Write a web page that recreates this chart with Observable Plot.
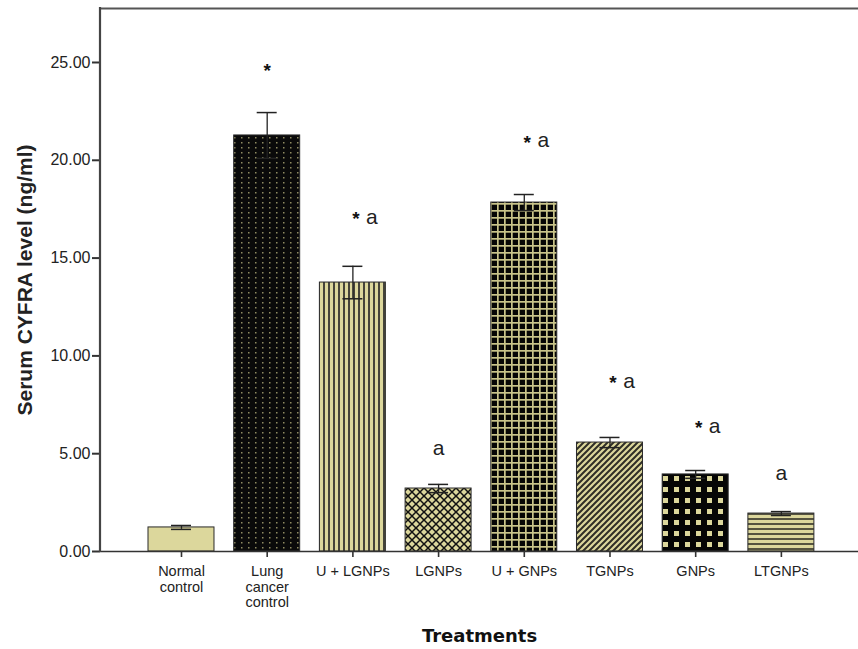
<!DOCTYPE html>
<html>
<head>
<meta charset="utf-8">
<script src="https://cdn.jsdelivr.net/npm/d3@7"></script>
<script src="https://cdn.jsdelivr.net/npm/@observablehq/plot@0.6"></script>
<style>
  html, body { margin: 0; padding: 0; background: #fff; }
</style>
</head>
<body>
<div id="chart"></div>
<script>
// ---- data ----
const categories = ["Normal control", "Lung cancer control", "U + LGNPs", "LGNPs", "U + GNPs", "TGNPs", "GNPs", "LTGNPs"];
const tickLabels = ["Normal\ncontrol", "Lung\ncancer\ncontrol", "U + LGNPs", "LGNPs", "U + GNPs", "TGNPs", "GNPs", "LTGNPs"];
const means  = [1.23, 21.27, 13.75, 3.22, 17.84, 5.57, 3.94, 1.94];
const errors = [0.10, 1.17, 0.83, 0.21, 0.41, 0.26, 0.20, 0.10];
const starMark = [false, true, true, false, true, true, true, false];
const aMark    = [false, false, true, true, true, true, true, true];
const markY    = [null, 24.8, 17.1, 5.3, 21.0, 8.7, 6.4, 4.0];
const yTicks = [0, 5, 10, 15, 20, 25];
const yTop = 27.76;
const patterns = ["pNormal", "pLung", "pVert", "pCross", "pGrid", "pDiag", "pSquares", "pHoriz"];

const data = categories.map((c, i) => ({
  cat: c, label: tickLabels[i], mean: means[i],
  lo: means[i] - errors[i], hi: means[i] + errors[i],
  fill: `url(#${patterns[i]})`,
  star: starMark[i], a: aMark[i], my: markY[i]
}));
const labelOf = new Map(data.map(d => [d.cat, d.label]));

const khaki = "#dcd79c";
const dark = "#2f2e26";

const chart = Plot.plot({
  width: 858,
  height: 649,
  marginLeft: 100,
  marginRight: 0,
  marginTop: 8,
  marginBottom: 98,
  style: {fontFamily: "'Liberation Sans', Arial, sans-serif", fontSize: "14px", color: "#222", background: "#fff"},
  x: {domain: categories, paddingInner: 0.23, paddingOuter: 0.5375, align: 0.521, round: false, label: null},
  y: {domain: [0, yTop], label: null},
  color: {type: "identity"},
  marks: [
    Plot.ruleY([yTop], {stroke: "#555", strokeWidth: 2.2}),
    Plot.barY(data, {x: "cat", y: "mean", fill: "fill", stroke: "#2a2a2a", strokeWidth: 1}),
    Plot.ruleX(data, {x: "cat", y1: "lo", y2: "hi", stroke: "#222", strokeWidth: 1.3}),
    Plot.tickY(data, {x: "cat", y: "hi", insetLeft: 23, insetRight: 23, stroke: "#222", strokeWidth: 1.5}),
    Plot.tickY(data, {x: "cat", y: "lo", insetLeft: 23, insetRight: 23, stroke: "#222", strokeWidth: 1.5}),
    Plot.ruleY([0], {stroke: "#333", strokeWidth: 1.6}),
    Plot.axisY({ticks: yTicks, tickFormat: d3.format(".2f"), tickSize: 8, tickPadding: 2, fontSize: 16, label: null, stroke: "#333", strokeWidth: 2, fill: "#222"}),
    Plot.axisX({tickFormat: d => labelOf.get(d), tickSize: 6, tickPadding: 8, fontSize: 14.5, lineHeight: 1.05, label: null, stroke: "#333", strokeWidth: 1.6, fill: "#222"}),
    Plot.text(data.filter(d => d.a && !d.star), {x: "cat", y: "my", text: () => "a", fontSize: 21, lineAnchor: "middle", fill: "#222"}),
    Plot.text(data.filter(d => d.a && d.star), {x: "cat", y: "my", text: () => "a", dx: 19, fontSize: 21, lineAnchor: "middle", fill: "#222"}),
    Plot.text(data.filter(d => d.star && !d.a), {x: "cat", y: "my", text: () => "*", fontSize: 19, fontWeight: "bold", lineAnchor: "middle", dy: 5, fill: "#111"}),
    Plot.text(data.filter(d => d.star && d.a), {x: "cat", y: "my", text: () => "*", dx: 3, fontSize: 19, fontWeight: "bold", lineAnchor: "middle", dy: 2, fill: "#111"}),
    Plot.text(["Serum CYFRA level (ng/ml)"], {frameAnchor: "left", textAnchor: "middle", rotate: -90, dx: -75, fontSize: 21, fontWeight: "bold", fill: "#222"}),
    Plot.text(["Treatments"], {frameAnchor: "bottom", dy: 90, fontSize: 18, fontWeight: "bold", fontFamily: "'DejaVu Sans', sans-serif", fill: "#111"})
  ]
});

document.getElementById("chart").appendChild(chart);
const svg = d3.select(chart);

// left axis line, from the library's own scales
const ys = chart.scale("y"), xs = chart.scale("x");
svg.append("line")
  .attr("x1", xs.range[0]).attr("x2", xs.range[0])
  .attr("y1", ys.apply(0) + 1).attr("y2", ys.apply(yTop) - 1)
  .attr("stroke", "#444").attr("stroke-width", 2.2);

// pattern definitions
const defs = svg.insert("defs", ":first-child");
function pat(id, w, h) {
  return defs.append("pattern").attr("id", id).attr("patternUnits", "userSpaceOnUse").attr("width", w).attr("height", h);
}
let p;
p = pat("pNormal", 4, 4); p.append("rect").attr("width", 4).attr("height", 4).attr("fill", khaki);
p = pat("pLung", 7, 5);
p.append("rect").attr("width", 7).attr("height", 5).attr("fill", "#0a0a0a");
p.append("rect").attr("x", 3).attr("y", 2).attr("width", 1.5).attr("height", 1.5).attr("fill", "#8f8b62");
p = pat("pVert", 5, 5);
p.append("rect").attr("width", 5).attr("height", 5).attr("fill", khaki);
p.append("rect").attr("x", 3).attr("width", 2).attr("height", 5).attr("fill", "#46443a");
p = pat("pCross", 8, 8);
p.append("rect").attr("width", 8).attr("height", 8).attr("fill", khaki);
p.append("path").attr("d", "M-1,-1L9,9M9,-1L-1,9").attr("stroke", "#111").attr("stroke-width", 1.5);
p = pat("pGrid", 7, 7);
p.append("rect").attr("width", 7).attr("height", 7).attr("fill", "#050505");
p.append("rect").attr("width", 7).attr("height", 1.7).attr("fill", "#c9c48a");
p.append("rect").attr("width", 1.7).attr("height", 7).attr("fill", "#c9c48a");
p = pat("pDiag", 6, 6);
p.append("rect").attr("width", 6).attr("height", 6).attr("fill", khaki);
p.append("path").attr("d", "M-1,7L7,-1M-4,4L4,-4M2,10L10,2").attr("stroke", dark).attr("stroke-width", 2);
p = pat("pSquares", 11, 11);
p.append("rect").attr("width", 11).attr("height", 11).attr("fill", "#050505");
p.append("rect").attr("x", 3).attr("y", 3).attr("width", 5).attr("height", 5).attr("fill", khaki);
p = pat("pHoriz", 5, 5);
p.append("rect").attr("width", 5).attr("height", 5).attr("fill", khaki);
p.append("rect").attr("y", 3).attr("width", 5).attr("height", 2).attr("fill", "#55533f");
</script>
</body>
</html>
